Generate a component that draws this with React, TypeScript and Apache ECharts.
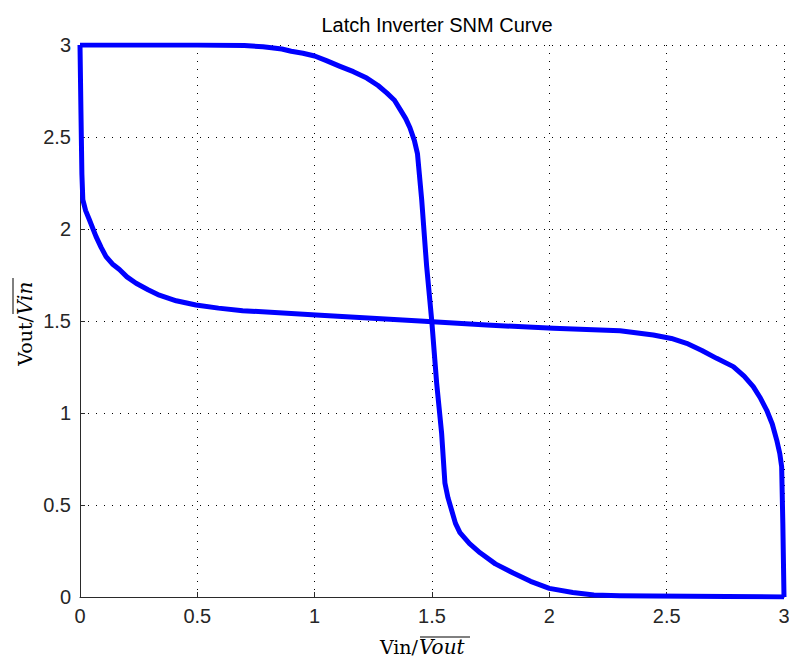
import React, { useEffect, useRef } from "react";
import * as echarts from "echarts";

const chartTitle = "Latch Inverter SNM Curve";
const xTicks = [0, 0.5, 1, 1.5, 2, 2.5, 3];
const yTicks = [0, 0.5, 1, 1.5, 2, 2.5, 3];

// Inverter 1 transfer curve: [Vin, Vout]
const curveA: [number, number][] = [
  [0, 3], [0.5, 3], [0.7, 2.997], [0.78, 2.99], [0.86, 2.978], [0.9, 2.966],
  [0.95, 2.955], [1.0, 2.94], [1.05, 2.915], [1.108, 2.884], [1.165, 2.855],
  [1.222, 2.82], [1.27, 2.78], [1.307, 2.74], [1.34, 2.7], [1.364, 2.65],
  [1.388, 2.6], [1.406, 2.55], [1.425, 2.48], [1.438, 2.41], [1.456, 2.16],
  [1.477, 1.8], [1.499, 1.5], [1.52, 1.16], [1.541, 0.89], [1.555, 0.62],
  [1.568, 0.54], [1.584, 0.47], [1.6, 0.4], [1.619, 0.35], [1.66, 0.29],
  [1.705, 0.24], [1.77, 0.18], [1.846, 0.13], [1.92, 0.085], [2.0, 0.047],
  [2.1, 0.024], [2.19, 0.011], [2.3, 0.007], [2.44, 0.005], [3, 0],
];

// Inverter 2 transfer curve (mirrored axes): [Vout-bar, Vin-bar]
const curveB: [number, number][] = [
  [0, 3], [0.004, 2.64], [0.008, 2.3], [0.012, 2.16], [0.024, 2.1], [0.04, 2.05],
  [0.068, 1.96], [0.09, 1.9], [0.111, 1.85], [0.138, 1.81], [0.168, 1.78],
  [0.2, 1.74], [0.239, 1.705], [0.29, 1.67], [0.338, 1.64], [0.41, 1.61],
  [0.494, 1.587], [0.59, 1.57], [0.693, 1.556], [1.006, 1.533], [1.449, 1.5],
  [1.733, 1.478], [2.017, 1.46], [2.301, 1.447], [2.443, 1.424], [2.52, 1.405],
  [2.585, 1.379], [2.65, 1.34], [2.713, 1.297], [2.784, 1.252], [2.83, 1.2],
  [2.869, 1.143], [2.9, 1.08], [2.926, 1.016], [2.95, 0.94], [2.969, 0.853],
  [2.982, 0.78], [2.99, 0.708], [2.995, 0.4], [3, 0],
];

const SERIF = '"DejaVu Serif", serif';
const SANS = '"Liberation Sans", Arial, sans-serif';

export default function App() {
  const ref = useRef<HTMLDivElement>(null);
  useEffect(() => {
    if (!ref.current) return;
    const chart = echarts.init(ref.current, undefined, { renderer: "svg" });
    const gridLine = { show: true, lineStyle: { color: "#000", width: 1, type: [1, 7] as any } };
    const axisCommon = {
      type: "value" as const,
      interval: 0.5,
      axisLine: { show: true, onZero: false, lineStyle: { color: "#2a2a2a", width: 1 } },
      axisTick: { show: true, inside: true, length: 5, lineStyle: { color: "#2a2a2a" } },
      splitLine: gridLine,
    };
    const labelText = (align: string, extra: any = {}) => ({
      fill: "#000",
      fontSize: 19,
      fontFamily: SERIF,
      align,
      textAlign: align,
      verticalAlign: "middle",
      textVerticalAlign: "middle",
      ...extra,
    });
    chart.setOption({
      animation: false,
      backgroundColor: "#fff",
      title: {
        text: chartTitle,
        left: 432,
        top: 10,
        textAlign: "center",
        textStyle: { fontFamily: SANS, fontSize: 20, fontWeight: "normal", color: "#000" },
      },
      grid: { left: 80, right: 5, top: 45, bottom: 68, containLabel: false, outerBoundsMode: "none" },
      xAxis: {
        ...axisCommon,
        min: xTicks[0],
        max: xTicks[xTicks.length - 1],
        axisLabel: { margin: 9, color: "#262626", fontSize: 20, fontFamily: SANS },
      },
      yAxis: {
        ...axisCommon,
        min: yTicks[0],
        max: yTicks[yTicks.length - 1],
        axisLabel: { margin: 9, color: "#262626", fontSize: 20, fontFamily: SANS },
      },
      graphic: [
        {
          type: "group",
          x: 418,
          y: 647,
          children: [
            { type: "text", x: 0, y: 0, style: { text: "Vin/", ...labelText("right") } },
            { type: "text", x: 1, y: 0, style: { text: "Vout", ...labelText("left", { fontStyle: "italic", fontSize: 20 }) } },
            { type: "line", shape: { x1: 2, y1: -10, x2: 52, y2: -10 }, style: { stroke: "#000", lineWidth: 1 } },
          ],
        },
        {
          type: "group",
          x: 25,
          y: 316,
          rotation: Math.PI / 2,
          children: [
            { type: "text", x: 0, y: 0, style: { text: "Vout/", ...labelText("right") } },
            { type: "text", x: 1, y: 0, style: { text: "Vin", ...labelText("left", { fontStyle: "italic", fontSize: 20 }) } },
            { type: "line", shape: { x1: 2, y1: -12, x2: 38, y2: -12 }, style: { stroke: "#000", lineWidth: 1 } },
          ],
        },
      ],
      series: [
        {
          type: "line",
          data: curveA,
          showSymbol: false,
          symbol: "none",
          lineStyle: { color: "#0000ff", width: 5, join: "round" },
          z: 5,
        },
        {
          type: "line",
          data: curveB,
          showSymbol: false,
          symbol: "none",
          lineStyle: { color: "#0000ff", width: 5, join: "round" },
          z: 5,
        },
      ],
    });
    return () => chart.dispose();
  }, []);
  return (
    <div
      ref={ref}
      style={{ position: "fixed", left: 0, top: 0, width: 789, height: 665, background: "#fff" }}
    />
  );
}
